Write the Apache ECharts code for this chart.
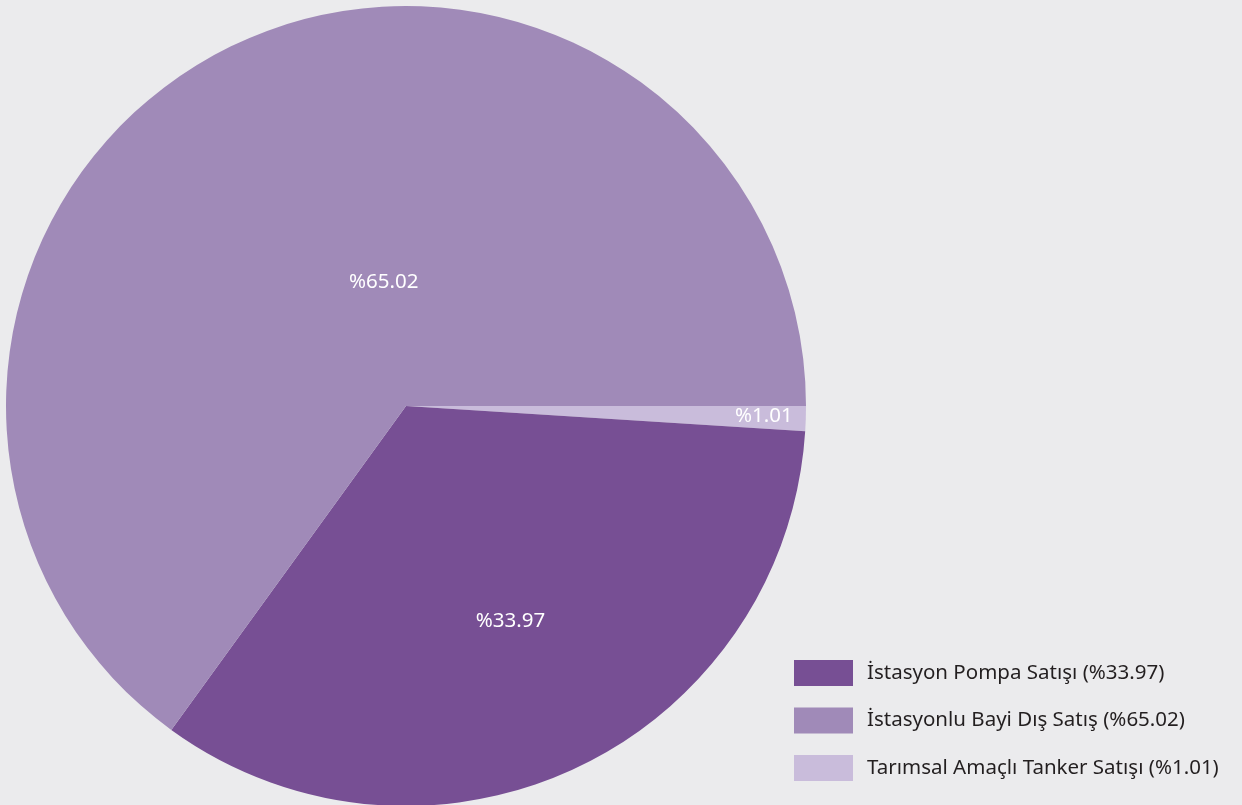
<!DOCTYPE html>
<html>
<head>
<meta charset="utf-8">
<title>Satış Dağılımı</title>
<script src="https://cdn.jsdelivr.net/npm/echarts@6/dist/echarts.min.js"></script>
<style>
	html, body { margin: 0; padding: 0; background: #ebebed; }
	#pie { width: 1242px; height: 805px; }
</style>
</head>
<body>
<div id="pie"></div>
<script type="text/javascript">
// veriler (dilim sırası saat yönünde, 0 dereceden başlayarak)
var sliceNames = ['Tarımsal Amaçlı Tanker Satışı', 'İstasyon Pompa Satışı', 'İstasyonlu Bayi Dış Satış'];
var sliceValues = [1.01, 33.97, 65.02];
var sliceColors = ['#c9bcdb', '#774f94', '#a08ab8'];
// etiket kaydırmaları (px)
var labelOffsets = [[155, 4], [18, 32], [70, 57]];
// lejant sırası
var legendOrder = ['İstasyon Pompa Satışı', 'İstasyonlu Bayi Dış Satış', 'Tarımsal Amaçlı Tanker Satışı'];

var pieChart = echarts.init(document.getElementById('pie'));

var pieData = [];
for (var i = 0; i < sliceNames.length; i++) {
	pieData.push({
		name: sliceNames[i],
		value: sliceValues[i],
		itemStyle: { color: sliceColors[i] },
		label: { offset: labelOffsets[i] }
	});
}

var option = {
	backgroundColor: '#ebebed',
	animation: false,
	legend: {
		data: legendOrder,
		orient: 'vertical',
		left: 789,
		top: 655,
		itemWidth: 59,
		itemHeight: 26,
		itemGap: 21.5,
		icon: 'rect',
		formatter: function (name) {
			var idx = sliceNames.indexOf(name);
			return name + ' (%' + sliceValues[idx].toFixed(2) + ')';
		},
		textStyle: {
			fontFamily: 'Noto Sans',
			fontSize: 20.5,
			color: '#231f20',
			padding: [0, 0, 0, 9]
		}
	},
	series: [{
		type: 'pie',
		center: [406, 406],
		radius: 400,
		startAngle: 0,
		clockwise: true,
		avoidLabelOverlap: false,
		label: {
			show: true,
			position: 'inside',
			formatter: function (p) { return '%' + p.value.toFixed(2); },
			color: '#ffffff',
			fontFamily: 'Noto Sans',
			fontSize: 20.5
		},
		labelLine: { show: false },
		emphasis: { disabled: true },
		data: pieData
	}]
};

pieChart.setOption(option);
</script>
</body>
</html>
